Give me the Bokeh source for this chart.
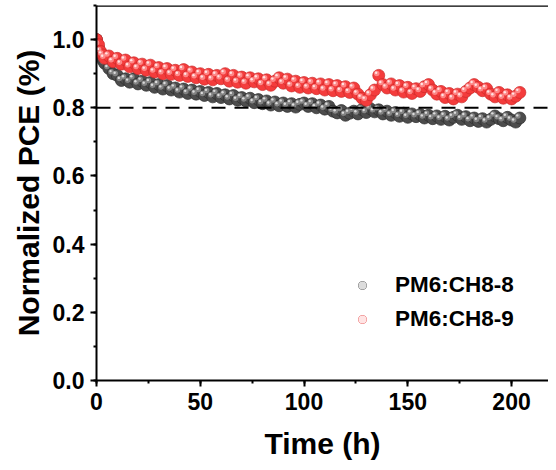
from bokeh.plotting import figure
from bokeh.models import (Range1d, Span, Legend, LegendItem, SingleIntervalTicker,
                          NumeralTickFormatter)
from bokeh.embed import file_html
from bokeh.resources import INLINE

# ---------------- data ----------------
time_h = [0, 1, 2, 3, 4, 6, 8, 10, 12, 14, 16, 18, 20, 22, 24, 26, 28, 30, 32, 34,
          36, 38, 40, 42, 44, 46, 48, 50, 52, 54, 56, 58, 60, 62, 64, 66, 68, 70, 72, 74,
          76, 78, 80, 82, 84, 86, 88, 90, 92, 94, 96, 98, 100, 102, 104, 106, 108, 110, 112, 114,
          116, 118, 120, 122, 124, 126, 128, 130, 132, 134, 136, 138, 140, 142, 144, 146, 148, 150, 152, 154,
          156, 158, 160, 162, 164, 166, 168, 170, 172, 174, 176, 178, 180, 182, 184, 186, 188, 190, 192, 194,
          196, 198, 200, 202, 204]

pce_ch8_8 = [1.00, 0.975, 0.955, 0.94, 0.93, 0.915, 0.90, 0.895, 0.88, 0.885, 0.875, 0.885, 0.87, 0.878, 0.866, 0.874, 0.86, 0.868, 0.855, 0.865,
             0.852, 0.858, 0.846, 0.855, 0.842, 0.852, 0.84, 0.848, 0.836, 0.845, 0.832, 0.842, 0.83, 0.838, 0.826, 0.836, 0.822, 0.83, 0.82, 0.828,
             0.815, 0.824, 0.812, 0.82, 0.808, 0.817, 0.806, 0.814, 0.804, 0.812, 0.802, 0.81, 0.814, 0.804, 0.812, 0.80, 0.808, 0.796, 0.804, 0.79,
             0.785, 0.792, 0.778, 0.784, 0.79, 0.782, 0.795, 0.786, 0.797, 0.788, 0.794, 0.782, 0.79, 0.778, 0.786, 0.775, 0.784, 0.772, 0.782, 0.774,
             0.78, 0.77, 0.778, 0.768, 0.776, 0.766, 0.775, 0.764, 0.772, 0.778, 0.766, 0.774, 0.762, 0.77, 0.76, 0.768, 0.758, 0.766, 0.776, 0.768,
             0.762, 0.772, 0.764, 0.758, 0.77]

pce_ch8_9 = [1.00, 0.985, 0.965, 0.955, 0.945, 0.952, 0.935, 0.945, 0.928, 0.94, 0.92, 0.932, 0.915, 0.928, 0.91, 0.925, 0.905, 0.918, 0.90, 0.915,
             0.898, 0.91, 0.895, 0.912, 0.892, 0.905, 0.888, 0.90, 0.884, 0.898, 0.882, 0.895, 0.885, 0.90, 0.878, 0.895, 0.875, 0.89, 0.872, 0.888,
             0.876, 0.885, 0.868, 0.882, 0.866, 0.878, 0.888, 0.872, 0.884, 0.864, 0.878, 0.86, 0.874, 0.858, 0.872, 0.856, 0.87, 0.852, 0.868, 0.85,
             0.865, 0.848, 0.862, 0.845, 0.858, 0.84, 0.828, 0.822, 0.838, 0.852, 0.895, 0.868, 0.858, 0.87, 0.852, 0.865, 0.846, 0.86, 0.842, 0.856,
             0.848, 0.862, 0.868, 0.852, 0.84, 0.848, 0.83, 0.842, 0.826, 0.84, 0.832, 0.848, 0.858, 0.868, 0.86, 0.85, 0.856, 0.84, 0.832, 0.845,
             0.828, 0.838, 0.826, 0.834, 0.845]

series_labels = ["PM6:CH8-8", "PM6:CH8-9"]
x_title = "Time (h)"
y_title = "Normalized PCE (%)"
x_ticks_interval = 50
y_ticks_interval = 0.2
ref_level = 0.8

# ---------------- figure ----------------
W, H = 548, 462
BL, BR, BT, BB = 96, 0, 5, 82
FW, FH = W - BL - BR, H - BT - BB
x_start, x_end = 0, 217.8
y_start, y_end = 0, 1.1
FONT = "Liberation Sans"

p = figure(width=W, height=H,
           x_range=Range1d(x_start, x_end), y_range=Range1d(y_start, y_end),
           output_backend="svg", toolbar_location=None,
           min_border_left=BL, min_border_right=BR, min_border_top=BT, min_border_bottom=BB)
p.outline_line_color = None
p.xgrid.grid_line_color = None
p.ygrid.grid_line_color = None
p.background_fill_color = "white"
p.border_fill_color = "white"

p.xaxis.ticker = SingleIntervalTicker(interval=x_ticks_interval, num_minor_ticks=2)
p.yaxis.ticker = SingleIntervalTicker(interval=y_ticks_interval, num_minor_ticks=2)
p.yaxis.formatter = NumeralTickFormatter(format="0.0")

for ax in (p.xaxis[0], p.yaxis[0]):
    ax.axis_line_width = 2
    ax.axis_line_color = "black"
    ax.major_tick_line_width = 2
    ax.minor_tick_line_width = 2
    ax.major_tick_out = 6
    ax.major_tick_in = 0
    ax.minor_tick_out = 3
    ax.minor_tick_in = 0
    ax.major_label_text_font = FONT
    ax.major_label_text_font_style = "bold"
    ax.major_label_text_font_size = "23px"
    ax.major_label_text_color = "black"
    ax.axis_label_text_font = FONT
    ax.axis_label_text_font_style = "bold"
    ax.axis_label_text_font_size = "30px"
    ax.axis_label_text_color = "black"
    ax.major_label_standoff = 6

p.yaxis.axis_label = y_title
p.yaxis.axis_label_standoff = 5

p.xaxis.axis_label = x_title
p.xaxis.axis_label_text_line_height = 0.8
p.xaxis.axis_label_text_baseline = "middle"
p.xaxis.axis_label_standoff = 14

# top spine
p.add_layout(Span(location=y_end, dimension="width", line_color="black", line_width=2.5))
# 80% reference line
p.add_layout(Span(location=ref_level, dimension="width", line_color="black",
                  line_width=2, line_dash="14 9"))

# sphere-like markers
px_per_x = FW / (x_end - x_start)
px_per_y = FH / (y_end - y_start)

def sphere(xs, ys, base, edge, hi, spec):
    hx = [x - 2.0 / px_per_x for x in xs]
    hy = [y + 2.0 / px_per_y for y in ys]
    sx = [x - 2.6 / px_per_x for x in xs]
    sy = [y + 2.6 / px_per_y for y in ys]
    r1 = p.scatter(xs, ys, size=12, fill_color=base, line_color=edge, line_width=0.7)
    r2 = p.scatter(hx, hy, size=5.5, fill_color=hi, line_color=None, fill_alpha=0.85)
    r3 = p.scatter(sx, sy, size=2.4, fill_color=spec, line_color=None)
    return [r1, r2, r3]

g = sphere(time_h, pce_ch8_8, "#4c4c4c", "#2e2e2e", "#8e8e8e", "#dcdcdc")
r = sphere(time_h, pce_ch8_9, "#f43c3c", "#cc2a2a", "#ff9494", "#ffe4e4")

legend = Legend(items=[LegendItem(label=series_labels[0], renderers=g),
                       LegendItem(label=series_labels[1], renderers=r)],
                location=(256, 46), glyph_width=20, glyph_height=30, label_height=30,
                label_standoff=23, spacing=4, padding=0, margin=0,
                border_line_color=None, background_fill_alpha=0,
                label_text_font=FONT, label_text_font_style="bold",
                label_text_font_size="22.5px", label_text_color="black")
p.add_layout(legend)

open("out.html", "w").write(file_html(p, INLINE))
